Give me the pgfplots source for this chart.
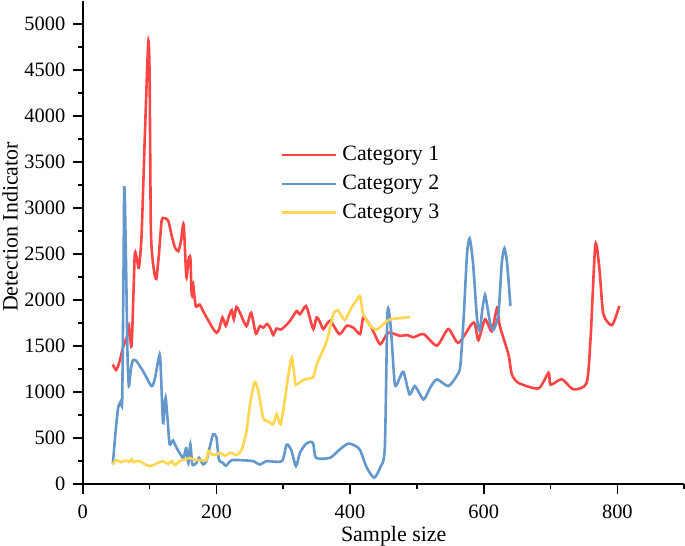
\documentclass[border=0pt]{standalone}
\usepackage{fontspec}
\setmainfont{Liberation Serif}
\usepackage{pgfplots}
\pgfplotsset{compat=1.18}
\definecolor{c1}{RGB}{255,68,68}
\definecolor{c2}{RGB}{100,152,205}
\definecolor{c3}{RGB}{255,214,80}
\begin{document}
\fontsize{22}{26}\selectfont
\begin{tikzpicture}
\begin{axis}[
 width=601bp, height=483bp, scale only axis,
 xmin=0, xmax=900, ymin=0, ymax=5250,
 axis x line*=bottom, axis y line*=left,
 axis line style={line width=1.6bp, -},
 xtick={0,200,...,800}, minor xtick={100,300,500,700,900},
 ytick={0,500,...,5000}, minor ytick={250,750,...,4750},
 tick align=outside, major tick length=10bp, minor tick length=5bp,
 every tick/.style={black, line width=1.6bp},
 tick label style={font=\fontsize{20.5}{24}\selectfont},
 xticklabel style={yshift=-3bp},
 /pgf/number format/assume math mode=true,
 /pgf/number format/1000 sep={},
 xlabel={Sample size}, ylabel={Detection Indicator},
 label style={font=\fontsize{22.4}{26}\selectfont},
 every axis x label/.style={at={(axis description cs:0.517,-0.118)}, anchor=base, inner sep=0pt},
 every axis y label/.style={at={(axis description cs:-0.1206,0.532)}, anchor=center, rotate=90, inner sep=2.5bp},
 legend style={at={(axis description cs:0.328,0.711)}, anchor=north west, draw=none, fill=none,
   font=\fontsize{22}{26}\selectfont, row sep=0bp, inner sep=0pt, nodes={inner sep=5.5bp}},
 legend image code/.code={\draw[#1] (0,0) -- (54bp,0);},
 legend cell align=left,
 every axis plot/.append style={line width=2.6bp, smooth, tension=0.4, mark=none},
]
\addplot[c1] coordinates {
(45,1300)(50,1240)(55,1330)(60,1480)(66,1600)(69,1720)(73,1500)(76,2100)(78,2510)(81,2450)(84,2350)(88,2700)(93,3800)(98,4800)(100,4450)(102,2750)(106,2350)(110,2230)(114,2500)(118,2860)(122,2890)(128,2860)(133,2700)(138,2570)(143,2530)(147,2640)(151,2820)(155,2250)(158,2430)(161,2460)(163,2060)(165,2180)(169,1935)(175,1950)(180,1880)(187,1790)(194,1700)(200,1645)(204,1680)(209,1810)(214,1720)(219,1830)(223,1890)(226,1790)(230,1925)(236,1850)(245,1717)(252,1862)(259,1635)(265,1717)(270,1700)(276,1740)(281,1690)(285,1620)(290,1690)(297,1680)(310,1772)(320,1880)(325,1845)(334,1935)(340,1800)(345,1685)(350,1810)(355,1760)(360,1685)(370,1775)(384,1630)(395,1720)(405,1700)(415,1630)(420,1810)(432,1700)(445,1520)(457,1645)(475,1610)(485,1620)(495,1595)(510,1630)(530,1505)(547,1685)(562,1535)(582,1740)(587,1740)(592,1565)(602,1790)(612,1660)(620,1915)(624,1720)(637,1410)(642,1195)(652,1100)(682,1040)(697,1210)(700,1080)(717,1140)(734,1030)(754,1100)(760,1600)(767,2600)(773,2350)(779,1850)(792,1728)(803,1935)
};
\addlegendentry{Category 1}
\addplot[c2] coordinates {
(45,215)(49,560)(53,830)(57,900)(59,910)(61,2300)(62,3200)(63,3100)(65,2300)(67,1400)(69,1065)(72,1250)(75,1345)(80,1340)(90,1230)(103,1065)(108,1150)(115,1410)(117,1200)(120,666)(122,800)(124,938)(127,700)(130,435)(135,475)(140,400)(150,285)(153,350)(155,390)(158,230)(161,435)(164,215)(170,230)(174,285)(180,215)(185,250)(190,400)(195,540)(200,510)(203,300)(205,250)(210,230)(214,200)(223,260)(238,260)(255,250)(265,213)(275,250)(298,250)(305,430)(312,370)(319,196)(325,340)(333,430)(340,460)(345,440)(349,286)(370,286)(385,380)(397,440)(407,420)(415,370)(425,180)(436,70)(445,180)(452,395)(456,1862)(461,1700)(467,1084)(474,1150)(480,1220)(489,975)(497,1065)(510,920)(520,1050)(530,1138)(547,1065)(560,1180)(565,1283)(570,1810)(575,2500)(579,2670)(584,2400)(590,1800)(594,1663)(598,1900)(602,2055)(606,1900)(610,1736)(615,1680)(622,1850)(627,2400)(631,2560)(635,2400)(640,1935)
};
\addlegendentry{Category 2}
\addplot[c3] coordinates {
(45,213)(49,260)(54,250)(58,240)(62,255)(66,250)(70,245)(73,270)(76,240)(80,250)(85,250)(92,220)(100,196)(108,215)(115,240)(120,250)(128,220)(133,250)(138,206)(143,240)(148,260)(155,270)(160,285)(165,270)(173,260)(180,260)(185,260)(188,360)(192,330)(195,320)(200,320)(205,340)(213,310)(220,340)(223,340)(230,315)(238,375)(245,575)(250,850)(257,1108)(263,1000)(270,720)(278,680)(285,650)(290,760)(296,650)(302,900)(308,1200)(313,1373)(318,1100)(320,1084)(332,1138)(345,1163)(350,1300)(365,1555)(375,1845)(382,1888)(392,1783)(402,1917)(410,2000)(415,2044)(419,1862)(425,1780)(430,1717)(440,1680)(450,1740)(460,1790)(490,1815)
};
\addlegendentry{Category 3}
\end{axis}
\end{tikzpicture}
\end{document}
